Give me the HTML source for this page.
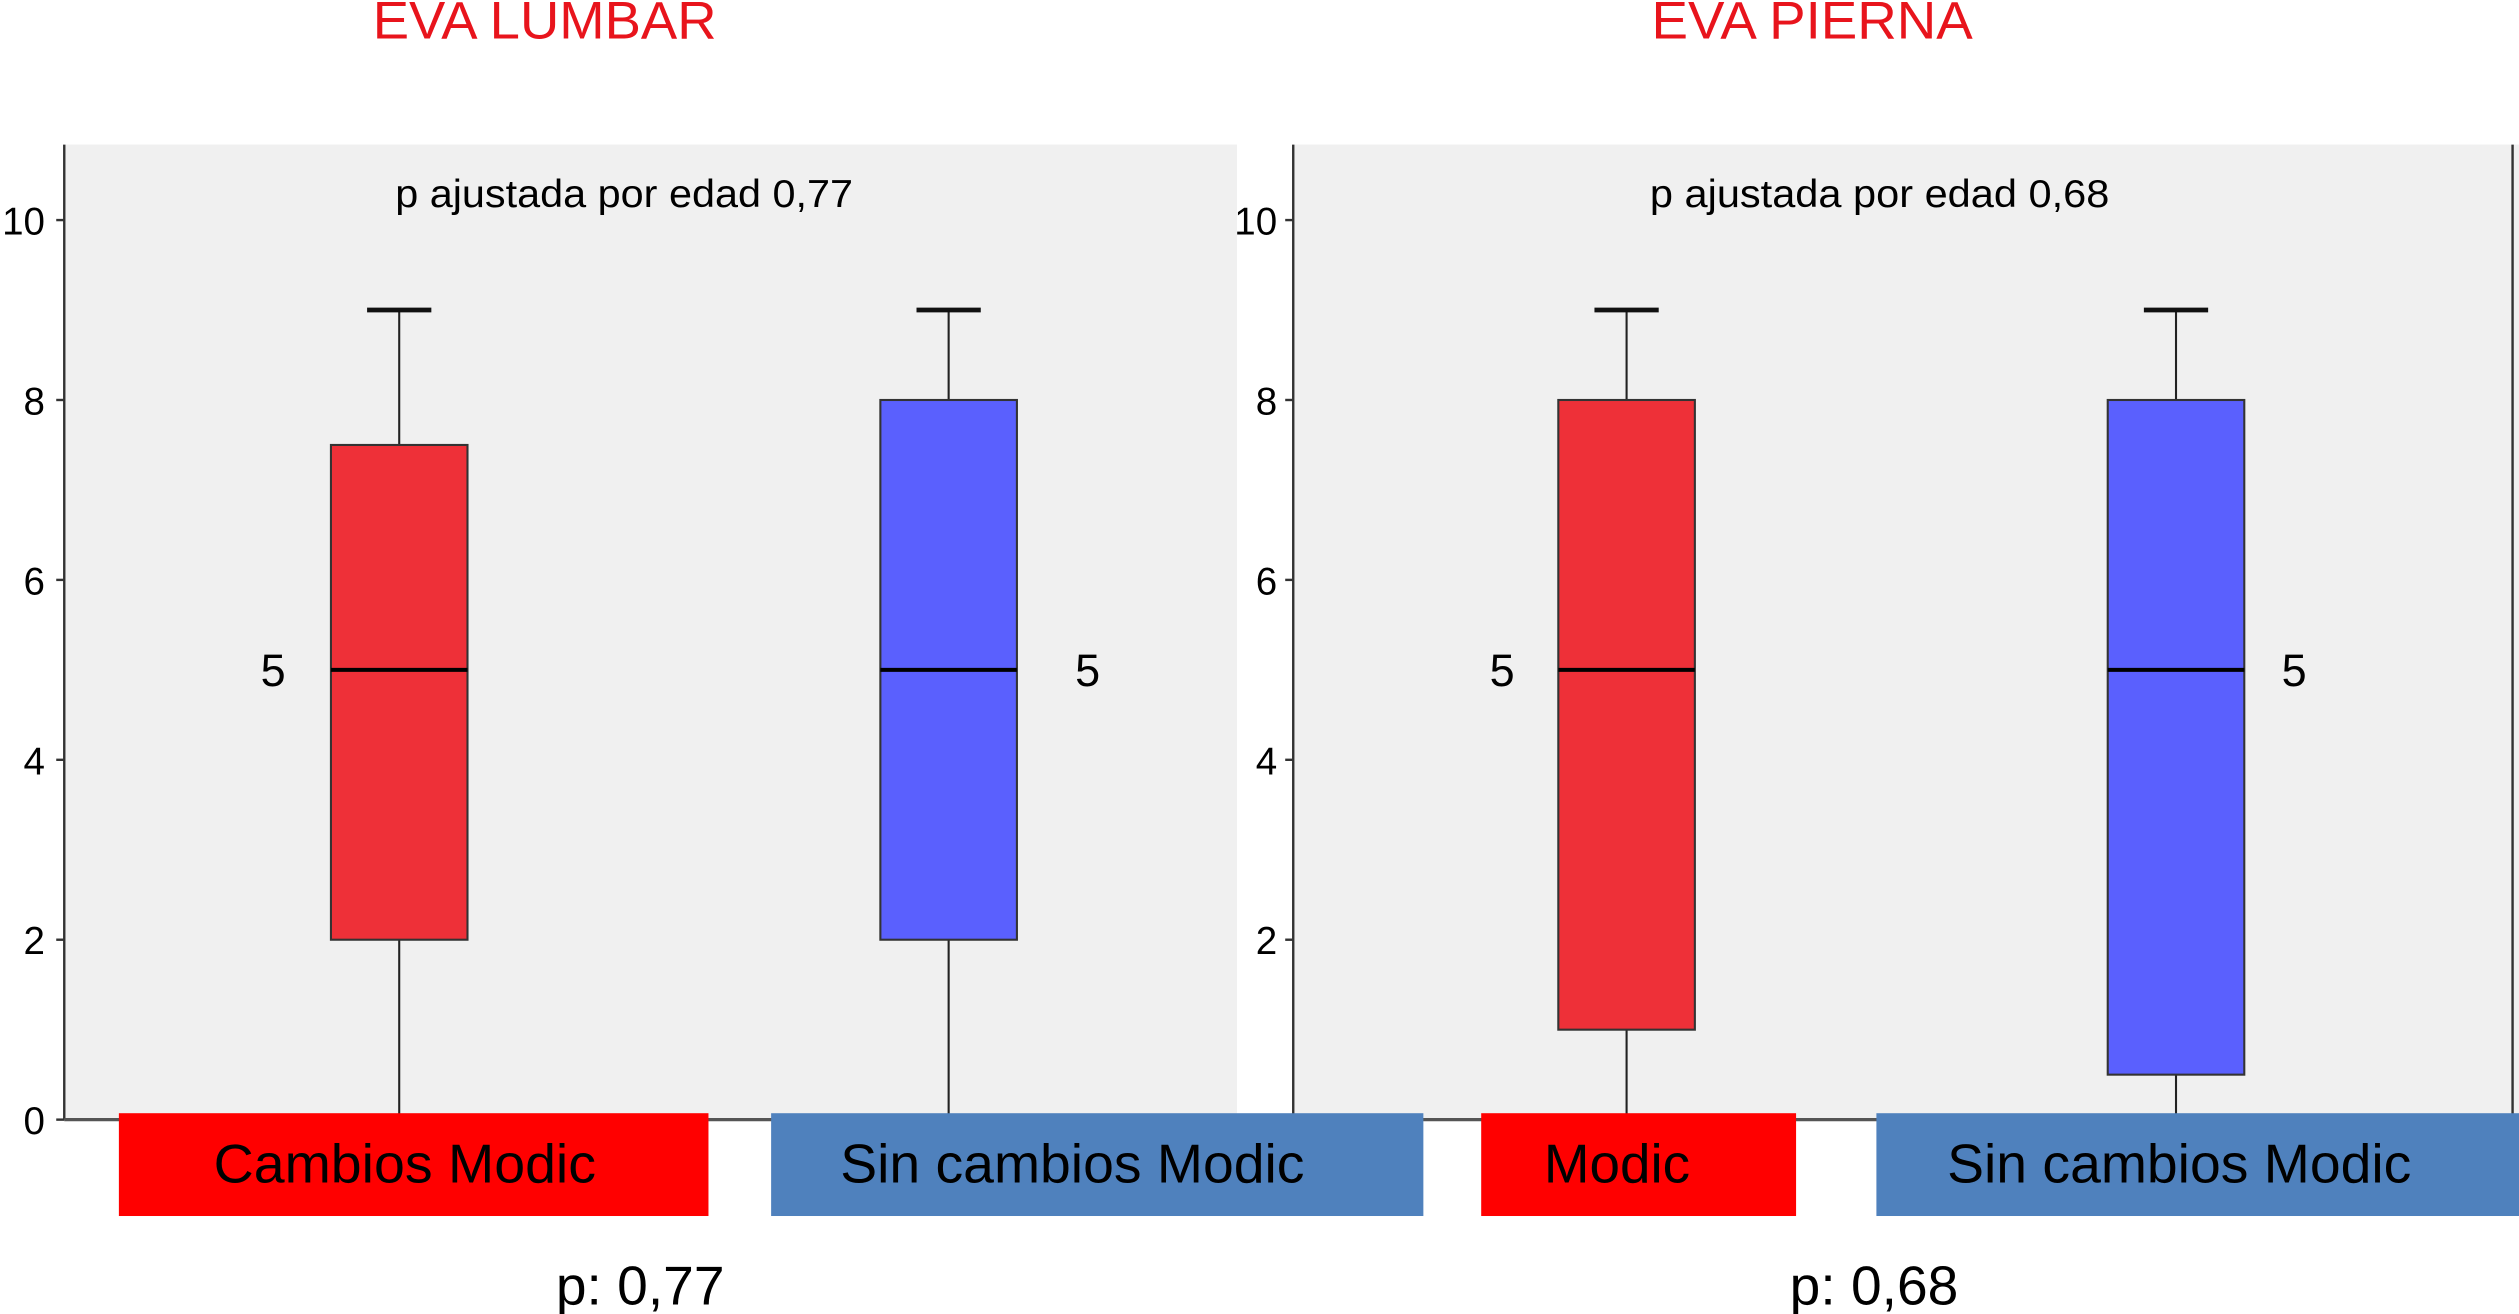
<!DOCTYPE html>
<html><head><meta charset="utf-8"><style>
html,body{margin:0;padding:0;background:#fff;}
svg{display:block;font-family:"Liberation Sans",sans-serif;}
</style></head><body>
<svg id="chart" width="2519" height="1314" viewBox="0 0 1568 818" preserveAspectRatio="none" xmlns="http://www.w3.org/2000/svg">
<text x="232" y="24" font-size="33" fill="#e8141c" textLength="214" lengthAdjust="spacingAndGlyphs">EVA LUMBAR</text>
<text x="1028" y="24" font-size="33" fill="#e8141c" textLength="200" lengthAdjust="spacingAndGlyphs">EVA PIERNA</text>
<g id="plots"></g>
</svg>
<script>
const panelNames = ["lumbar", "pierna"];
const pAdjusted = ["p ajustada por edad 0,77", "p ajustada por edad 0,68"];
const pValues = ["p: 0,77", "p: 0,68"];
const yTicks = [0, 2, 4, 6, 8, 10];
const groupNames = ["modic", "sin-modic", "modic", "sin-modic"];
const whiskerLow = [0, 0, 0, 0];
const q1 = [2, 2, 1, 0.5];
const median = [5, 5, 5, 5];
const q3 = [7.5, 8, 8, 8];
const whiskerHigh = [9, 9, 9, 9];
const medianLabels = ["5", "5", "5", "5"];
const categoryLabels = ["Cambios Modic", "Sin cambios Modic", "Modic", "Sin cambios Modic"];

const NS = "http://www.w3.org/2000/svg";
const g = document.getElementById("plots");
function mk(tag, attrs, parent) {
  const e = document.createElementNS(NS, tag);
  for (const k in attrs) e.setAttribute(k, attrs[k]);
  (parent || g).appendChild(e);
  return e;
}
function y(v) { return 697 - v * 56; }

const panels = [
  {axisX: 40, bgX0: 40, bgX1: 770, labelX: 28, pX: 246, pW: 285, pvX: 346, pvW: 105},
  {axisX: 805, bgX0: 805, bgX1: 1568, labelX: 795, pX: 1027, pW: 286, pvX: 1114, pvW: 105}
];
const boxes = [
  {x0: 206, x1: 291, fill: "#ee3038", lab: 170, p: 0},
  {x0: 548, x1: 633, fill: "#5a60fe", lab: 677, p: 0},
  {x0: 970, x1: 1055, fill: "#ee3038", lab: 935, p: 1},
  {x0: 1312, x1: 1397, fill: "#5a60fe", lab: 1428, p: 1}
];
const cats = [
  {x0: 74, x1: 441, fill: "#ff0000", tx: 133, tw: 238},
  {x0: 480, x1: 886, fill: "#4f81bd", tx: 523, tw: 289},
  {x0: 922, x1: 1118, fill: "#ff0000", tx: 961, tw: 91},
  {x0: 1168, x1: 1568, fill: "#4f81bd", tx: 1212, tw: 289}
];

panels.forEach((p, i) => {
  const bg = mk("rect", {x: p.bgX0, y: 90, width: p.bgX1 - p.bgX0, height: 607, fill: "#f0f0f0"});
  
  
  const ax = mk("line", {x1: p.axisX, y1: 90, x2: p.axisX, y2: 697, stroke: "#333", "stroke-width": 1.5});
  
  
  yTicks.forEach(t => {
    const tk = mk("line", {x1: p.axisX - 5, y1: y(t), x2: p.axisX, y2: y(t), stroke: "#333", "stroke-width": 1.5});
    
    
    if (i === 1 && t === 0) return;
    const tl = mk("text", {x: p.labelX, y: y(t) + 9, "text-anchor": "end", "font-size": 24, fill: "#000"});
    tl.textContent = t;
    
    
  });
  const pt = mk("text", {x: p.pX, y: 129, "font-size": 24, fill: "#000", textLength: p.pW, lengthAdjust: "spacingAndGlyphs"});
  pt.textContent = pAdjusted[i];
  
  
  const pv = mk("text", {x: p.pvX, y: 812, "font-size": 34, fill: "#000", textLength: p.pvW, lengthAdjust: "spacingAndGlyphs"});
  pv.textContent = pValues[i];
  
  
});
const rl = mk("line", {x1: 1564, y1: 90, x2: 1564, y2: 697, stroke: "#333", "stroke-width": 1.5});


const xa = mk("line", {x1: 40, y1: 697, x2: 1568, y2: 697, stroke: "#555", "stroke-width": 2});



boxes.forEach((b, i) => {
  const cx = (b.x0 + b.x1) / 2;
  const grp = mk("g", {});
  
  
  mk("line", {x1: cx, y1: y(whiskerLow[i]), x2: cx, y2: y(whiskerHigh[i]), stroke: "#222", "stroke-width": 1.3}, grp);
  mk("line", {x1: cx - 20, y1: y(whiskerHigh[i]), x2: cx + 20, y2: y(whiskerHigh[i]), stroke: "#111", "stroke-width": 3}, grp);
  mk("rect", {x: b.x0, y: y(q3[i]), width: b.x1 - b.x0, height: y(q1[i]) - y(q3[i]), fill: b.fill, stroke: "#333", "stroke-width": 1.3}, grp);
  mk("line", {x1: b.x0, y1: y(median[i]), x2: b.x1, y2: y(median[i]), stroke: "#000", "stroke-width": 2.5}, grp);
  const ml = mk("text", {x: b.lab, y: y(median[i]) + 10, "text-anchor": "middle", "font-size": 28, fill: "#000"});
  ml.textContent = medianLabels[i];
  
  
});

cats.forEach((c, i) => {
  const r = mk("rect", {x: c.x0, y: 693, width: c.x1 - c.x0, height: 64, fill: c.fill});
  
  
  const t = mk("text", {x: c.tx, y: 736, "font-size": 34, fill: "#000", textLength: c.tw, lengthAdjust: "spacingAndGlyphs"});
  t.textContent = categoryLabels[i];
  
  
});
</script>
</body></html>
